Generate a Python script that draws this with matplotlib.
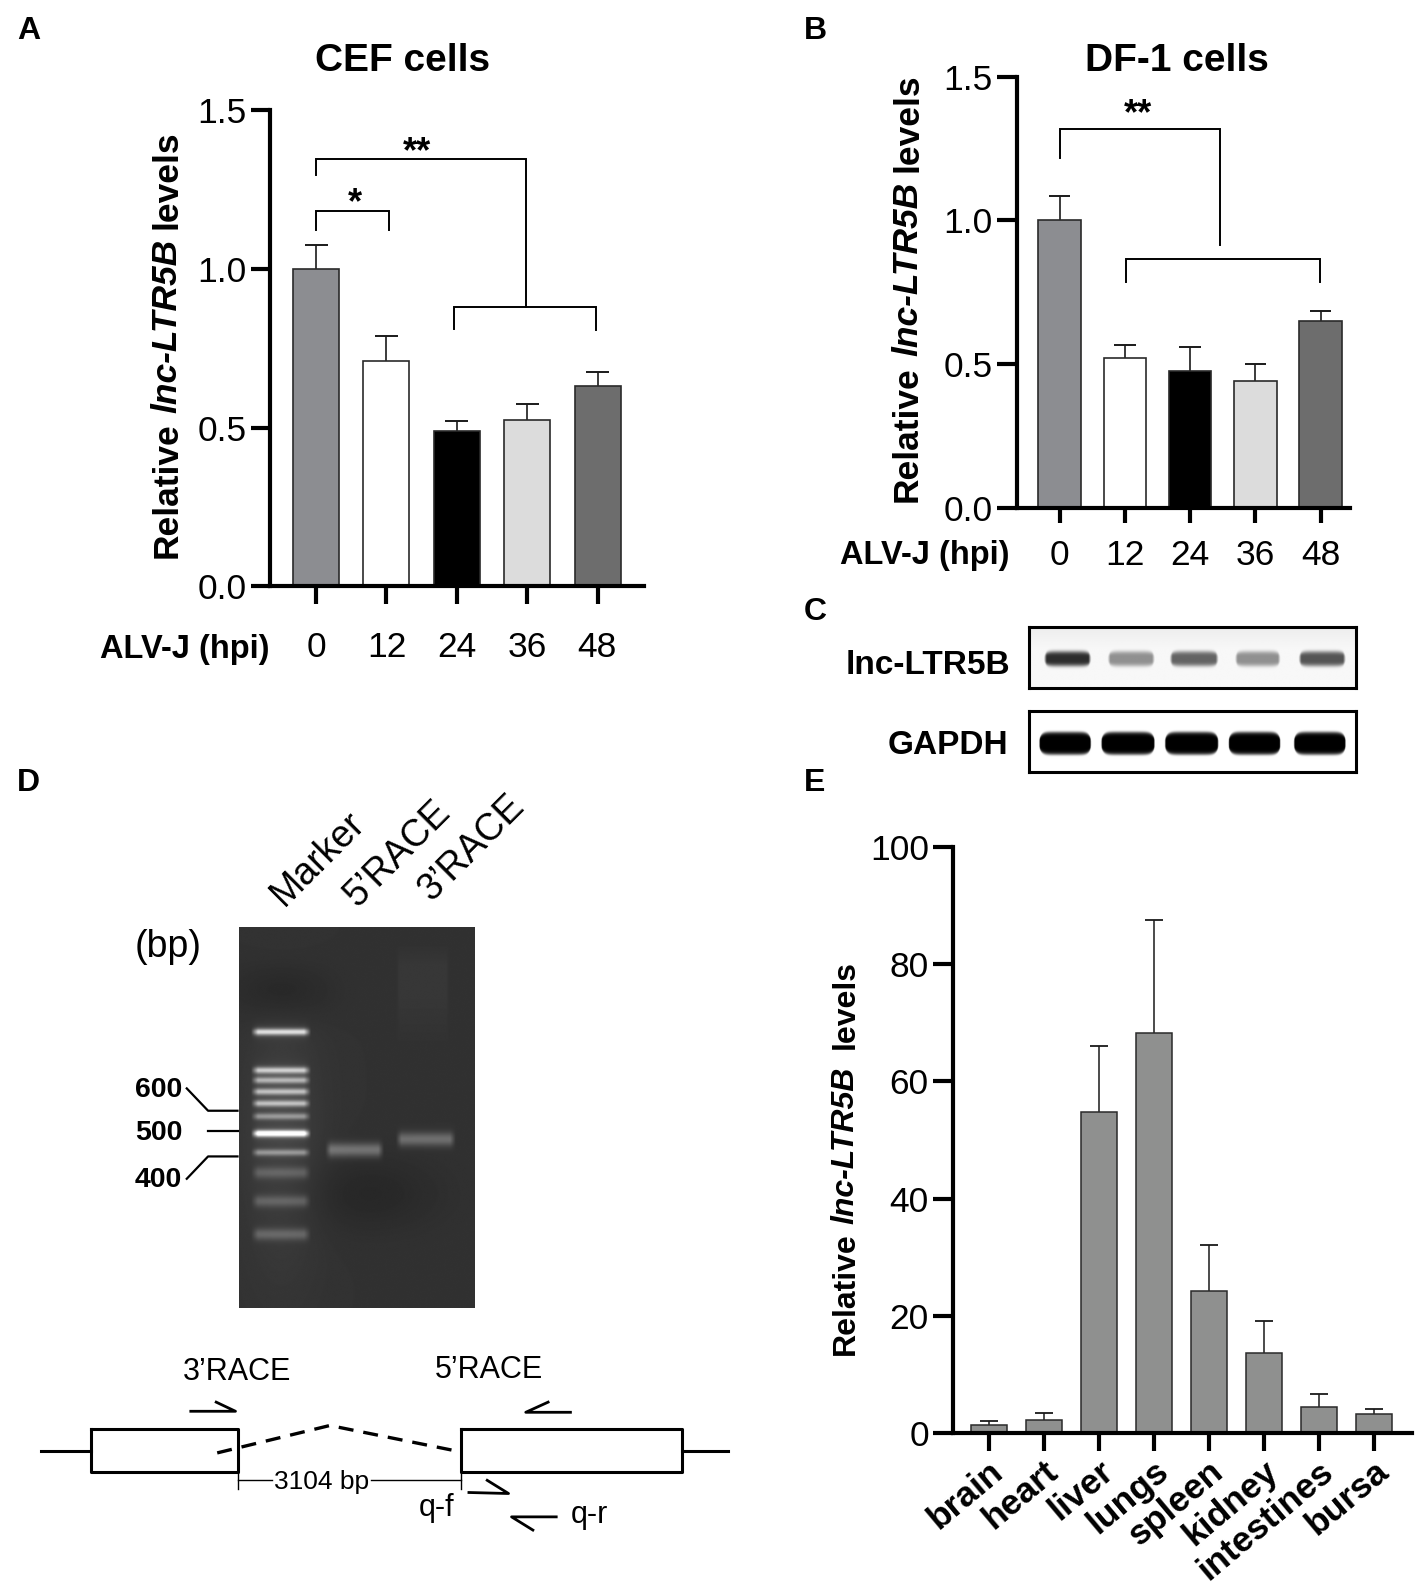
import numpy as np
import matplotlib
matplotlib.use("Agg")
import matplotlib.pyplot as plt

plt.rcParams['font.family'] = ['Liberation Sans', 'DejaVu Sans']

# ---------- data ----------
hpi = ['0', '12', '24', '36', '48']
cef_values = [1.0, 0.71, 0.49, 0.525, 0.63]
cef_err = [0.075, 0.08, 0.03, 0.05, 0.045]
df1_values = [1.0, 0.52, 0.475, 0.44, 0.65]
df1_err = [0.085, 0.045, 0.085, 0.06, 0.035]
bar_colors = ['#8c8d91', '#ffffff', '#000000', '#dcdcdc', '#6d6d6d']

tissues = ['brain', 'heart', 'liver', 'lungs', 'spleen', 'kidney', 'intestines', 'bursa']
tissue_values = [1.3, 2.2, 54.8, 68.3, 24.3, 13.7, 4.5, 3.2]
tissue_err = [0.8, 1.2, 11.2, 19.2, 7.7, 5.5, 2.1, 0.9]

lnc_bands = [(0.045, 0.19, 0.82), (0.24, 0.385, 0.42), (0.43, 0.58, 0.6), (0.63, 0.77, 0.42), (0.825, 0.97, 0.66)]
gapdh_bands = [(0.03, 0.19, 1.0), (0.22, 0.385, 1.0), (0.415, 0.58, 1.0), (0.61, 0.77, 1.0), (0.81, 0.97, 1.0)]
marker_y = [0.275, 0.376, 0.402, 0.432, 0.463, 0.497, 0.542, 0.592, 0.645, 0.72, 0.807]
marker_i = [0.72, 0.62, 0.5, 0.55, 0.55, 0.38, 1.0, 0.38, 0.17, 0.18, 0.2]
race_bands = [(0.365, 0.615, 0.585, 0.33), (0.665, 0.92, 0.557, 0.3)]

W, H = 1400.0, 1568.0
fig = plt.figure(figsize=(14.21, 15.92), dpi=100, facecolor='white')
renderer = fig.canvas.get_renderer()


def make_axes(x0, x1, ytop, ybot):
    return fig.add_axes([x0 / W, 1 - ybot / H, (x1 - x0) / W, (ybot - ytop) / H])


def T(x, y, s, **kw):
    kw.setdefault('ha', 'center')
    kw.setdefault('va', 'center')
    return fig.text(x / W, 1 - y / H, s, **kw)


def ylabel_parts(xbase, ybottom, fs, gap2=1.0):
    """Rotated label in three runs so that only the gene name is italic."""
    y = ybottom
    parts = [('Relative', 'normal', 1.0), ('lnc-LTR5B', 'italic', gap2), ('levels', 'normal', 0.0)]
    space = 0.278 * fs * 100 / 72 * (H / 1592.0 / 1.0)
    for s, st, g in parts:
        t = T(xbase, y, s, rotation=90, rotation_mode='anchor', ha='left', va='baseline',
              fontsize=fs, fontweight='bold', fontstyle=st)
        ext = t.get_window_extent(renderer)
        y -= (ext.height * H / 1592.0) + space * g


def bars(ax, values, err, colors, width, lw=1.2):
    x = np.arange(len(values))
    ax.bar(x, values, width=width, color=colors, edgecolor='#2a2a2a', linewidth=lw, zorder=2)
    cap = 0.25 * width
    for xi, v, e in zip(x, values, err):
        ax.plot([xi, xi], [v, v + e], color='#1a1a1a', lw=lw, solid_capstyle='butt', zorder=1)
        ax.plot([xi - cap, xi + cap], [v + e, v + e], color='#1a1a1a', lw=lw + 0.2, solid_capstyle='butt', zorder=1)


def style(ax, lw=3):
    for s in ['top', 'right']:
        ax.spines[s].set_visible(False)
    for s in ['left', 'bottom']:
        ax.spines[s].set_linewidth(lw)
    ax.patch.set_alpha(0)


def bracket(ax, xs, ys):
    ax.plot(xs, ys, color='black', lw=1.4, clip_on=False, zorder=3, solid_joinstyle='miter')


# ---------- Panel A ----------
axA = make_axes(266, 634, 108.5, 577.5)
bars(axA, cef_values, cef_err, bar_colors, 0.654)
axA.set_xlim(-0.654, 4.65)
axA.set_ylim(0, 1.5)
axA.set_yticks([0, 0.5, 1.0, 1.5])
axA.set_yticklabels(['0.0', '0.5', '1.0', '1.5'])
axA.set_xticks(range(5))
axA.set_xticklabels([])
axA.tick_params(axis='y', length=14, width=3, labelsize=25.5, pad=3)
axA.tick_params(axis='x', length=13, width=3)
style(axA)
bracket(axA, [0, 0, 1.03, 1.03], [1.123, 1.183, 1.183, 1.123])
bracket(axA, [0, 0, 2.98, 2.98], [1.295, 1.346, 1.346, 0.88])
bracket(axA, [1.96, 1.96, 3.97, 3.97], [0.812, 0.88, 0.88, 0.806])
T(350, 201, '*', fontsize=26, fontweight='bold')
T(411, 150, '**', fontsize=26, fontweight='bold')
T(397, 60, 'CEF cells', fontsize=28, fontweight='bold')
ylabel_parts(174, 550, 25.5)
T(182, 640, 'ALV-J (hpi)', fontsize=23.5, fontweight='bold')
for xc, s in zip([311.5, 381, 450, 519, 588], hpi):
    T(xc, 638, s, fontsize=25.5)

# ---------- Panel B ----------
axB = make_axes(1002, 1330, 75.5, 500)
bars(axB, df1_values, df1_err, bar_colors, 0.654)
axB.set_xlim(-0.654, 4.45)
axB.set_ylim(0, 1.5)
axB.set_yticks([0, 0.5, 1.0, 1.5])
axB.set_yticklabels(['0.0', '0.5', '1.0', '1.5'])
axB.set_xticks(range(5))
axB.set_xticklabels([])
axB.tick_params(axis='y', length=14.5, width=3, labelsize=25.5, pad=3)
axB.tick_params(axis='x', length=11, width=3)
style(axB)
bracket(axB, [0, 0, 2.46, 2.46], [1.218, 1.317, 1.317, 0.915])
bracket(axB, [1.01, 1.01, 3.99, 3.99], [0.787, 0.865, 0.865, 0.787])
T(1121, 113, '**', fontsize=26, fontweight='bold')
T(1160, 60, 'DF-1 cells', fontsize=28, fontweight='bold')
ylabel_parts(903.5, 494, 25.5)
T(911, 547, 'ALV-J (hpi)', fontsize=23.5, fontweight='bold')
for xc, s in zip([1044, 1108, 1172, 1237, 1301], hpi):
    T(xc, 547, s, fontsize=25.5)


# ---------- Panel C ----------
def strip_gel(x0, x1, ytop, ybot, bands, yc, hw, bg, power, soft):
    ax = make_axes(x0, x1, ytop, ybot)
    ny, nx = 120, 640
    yy, xx = np.mgrid[0:1:ny * 1j, 0:1:nx * 1j]
    img = np.full((ny, nx), bg, dtype=float)
    img -= (1 - bg + 0.03) * 2 * np.clip(0.35 - yy, 0, 1) * (bg < 1)
    for a, b, inten in bands:
        mid, half = (a + b) / 2, (b - a) / 2
        u = np.abs(xx - mid) / half
        width = hw * np.sqrt(np.clip(1 - u ** 8, 0.0, 1))
        yprof = np.exp(-(np.abs(yy - yc) / np.maximum(width, 1e-3)) ** power)
        xprof = np.clip((1 - u) / soft, 0, 1)
        img *= 1 - inten * xprof * yprof
    ax.imshow(img, cmap='gray', vmin=0, vmax=1, aspect='auto', extent=[0, 1, 1, 0], interpolation='bilinear')
    ax.set_xticks([])
    ax.set_yticks([])
    for s in ax.spines.values():
        s.set_linewidth(2.2)
    return ax


strip_gel(1014, 1336, 618, 678, lnc_bands, 0.52, 0.125, 0.97, 4, 0.12)
strip_gel(1014, 1336, 700, 760, gapdh_bands, 0.53, 0.19, 1.0, 8, 0.04)
T(995, 655, 'lnc-LTR5B', ha='right', fontsize=24, fontweight='bold')
T(993, 734, 'GAPDH', ha='right', fontsize=24, fontweight='bold')

# ---------- Panel D ----------
axD = make_axes(235, 467, 913, 1288)
ny, nx = 600, 372
yy, xx = np.mgrid[0:1:ny * 1j, 0:1:nx * 1j]
gel = 0.195 * np.ones((ny, nx))
gel -= 0.05 * np.exp(-((xx - 0.18) / 0.2) ** 2 - ((yy - 0.17) / 0.08) ** 2)
gel += 0.06 * np.exp(-((xx - 0.18) / 0.16) ** 2 - ((yy - 0.55) / 0.34) ** 2)
gel -= 0.04 * np.exp(-((xx - 0.55) / 0.3) ** 2 - ((yy - 0.70) / 0.1) ** 2)
smear = np.clip((xx - 0.67) / 0.01, 0, 1) * np.clip((0.89 - xx) / 0.01, 0, 1) * np.clip((yy - 0.05) / 0.05, 0, 1) * np.clip((0.30 - yy) / 0.12, 0, 1)
gel += 0.022 * smear
for yc, inten in zip(marker_y, marker_i):
    xprof = np.clip((xx - 0.05) / 0.03, 0, 1) * np.clip((0.305 - xx) / 0.03, 0, 1)
    thick = 0.0085 if inten > 0.3 else 0.015
    yprof = np.exp(-((yy - yc) / thick) ** 2)
    gel += 0.85 * inten * xprof * yprof
    gel += 0.08 * inten * np.clip(xprof, 0, 1) * np.exp(-((yy - yc) / 0.02) ** 2)
for a, b, yc, inten in race_bands:
    xprof = np.clip((xx - a) / 0.025, 0, 1) * np.clip((b - xx) / 0.025, 0, 1)
    yprof = np.exp(-((yy - yc) / 0.018) ** 2)
    gel += 0.8 * inten * xprof * yprof
axD.imshow(np.clip(gel, 0, 1), cmap='gray', vmin=0, vmax=1, aspect='auto', interpolation='bilinear')
axD.axis('off')

T(133, 933, '(bp)', ha='left', fontsize=27)
T(313, 846, 'Marker', rotation=45, fontsize=27, rotation_mode='anchor')
T(392, 841, "5’RACE", rotation=45, fontsize=27, rotation_mode='anchor')
T(465, 835, "3’RACE", rotation=45, fontsize=27, rotation_mode='anchor')
T(133, 1074, '600', ha='left', fontsize=20.5, fontweight='bold')
T(133, 1116, '500', ha='left', fontsize=20.5, fontweight='bold')
T(133, 1162, '400', ha='left', fontsize=20.5, fontweight='bold')


def L(xs, ys, **kw):
    kw.setdefault('color', 'black')
    kw.setdefault('lw', 1.6)
    fig.add_artist(plt.Line2D([x / W for x in xs], [1 - y / H for y in ys], **kw))


L([184, 205, 234], [1072, 1094, 1094])
L([205, 234], [1114, 1114])
L([184, 205, 234], [1161, 1139, 1139])

# schematic
L([40, 90], [1429, 1429], lw=2.2)
L([672, 717], [1429, 1429], lw=2.2)
L([90, 234, 234, 90, 90], [1407, 1407, 1450, 1450, 1407], lw=2.2)
L([454, 672, 672, 454, 454], [1407, 1407, 1450, 1450, 1407], lw=2.2)
L([214, 325, 454], [1431, 1404, 1430], lw=2.4, ls=(0, (4.5, 3)))
L([188, 232, 213], [1390, 1390, 1381], lw=2.0)
L([562, 518, 540], [1391, 1391, 1381], lw=2.0)
L([462, 501, 480], [1470, 1471, 1458], lw=2.0)
L([548, 504, 525], [1494, 1494, 1507], lw=2.0)
L([234, 268], [1458, 1458], lw=1.0)
L([366, 454], [1458, 1458], lw=1.0)
L([234, 234], [1450, 1467], lw=1.0)
L([454, 454], [1450, 1467], lw=1.0)
T(234, 1351, "3’RACE", fontsize=22)
T(482, 1349, "5’RACE", fontsize=22)
T(317, 1460, '3104 bp', fontsize=19)
T(430, 1485, 'q-f', fontsize=22)
T(581, 1492, 'q-r', fontsize=22)

# ---------- Panel E ----------
axE = make_axes(939, 1391, 834, 1411.5)
bars(axE, tissue_values, tissue_err, ['#8f908f'] * 8, 0.655, lw=1.1)
axE.set_xlim(-0.653, 7.686)
axE.set_ylim(0, 100)
axE.set_yticks([0, 20, 40, 60, 80, 100])
axE.set_xticks(range(8))
axE.set_xticklabels([])
axE.tick_params(axis='y', length=14.5, width=3, labelsize=25.5, pad=3)
axE.tick_params(axis='x', length=13, width=3)
style(axE)
for xc, s in zip([974.4, 1028.6, 1082.8, 1137, 1191.2, 1245.4, 1299.6, 1353.8], tissues):
    T(xc + 16, 1452, s, rotation=40, ha='right', va='baseline', rotation_mode='anchor', fontsize=25.5, fontweight='bold')
ylabel_parts(841, 1335, 23, gap2=2.0)

# ---------- panel letters ----------
for (x, y, s) in [(28, 31, 'A'), (803, 31, 'B'), (803, 603, 'C'), (28, 771, 'D'), (803, 771, 'E')]:
    T(x, y, s, fontsize=23, fontweight='bold')

fig.savefig('out.png', dpi=100)
